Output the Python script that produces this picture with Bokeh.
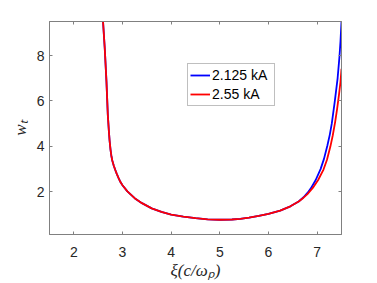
from bokeh.plotting import figure
from bokeh.models import Range1d, LinearAxis, FixedTicker, CustomJSTickFormatter, Legend, LegendItem
from bokeh.embed import file_html
from bokeh.resources import INLINE

# shared part of the curves (left branch and bottom)
xi_common = [2.60, 2.636, 2.671, 2.698, 2.72, 2.735, 2.753, 2.77, 2.79, 2.821, 2.85, 2.88,
             2.92, 2.958, 3.0, 3.1, 3.25, 3.4, 3.6, 3.8, 4.0, 4.25, 4.5, 4.75, 5.0, 5.25,
             5.42, 5.6, 5.8, 6.0, 6.24, 6.45, 6.62]
w_common = [9.5, 8.29, 6.83, 5.40, 4.68, 4.25, 3.87, 3.60, 3.38, 3.15, 2.97, 2.8,
            2.6, 2.43, 2.29, 2.02, 1.72, 1.50, 1.27, 1.12, 1.0, 0.91, 0.84, 0.79, 0.77, 0.78,
            0.81, 0.86, 0.94, 1.03, 1.17, 1.36, 1.575]

# right branch, 2.125 kA
xi_right_2125 = [6.72, 6.80, 6.87, 6.97, 7.07, 7.14, 7.21, 7.26, 7.30, 7.36, 7.42, 7.46, 7.48, 7.50]
w_right_2125 = [1.76, 1.95, 2.15, 2.52, 3.0, 3.45, 4.04, 4.52, 5.0, 5.95, 7.0, 8.0, 8.65, 9.5]
# right branch, 2.55 kA
xi_right_255 = [6.72, 6.80, 6.91, 7.02, 7.13, 7.20, 7.27, 7.32, 7.37, 7.41, 7.45, 7.48, 7.50]
w_right_255 = [1.74, 1.90, 2.17, 2.52, 2.98, 3.40, 3.98, 4.48, 5.08, 5.65, 6.30, 6.85, 7.42]

labels = ["2.125 kA", "2.55 kA"]
colors = ["#0000ff", "#ff0000"]

x_ticks = [2, 3, 4, 5, 6, 7]
y_ticks = [2, 4, 6, 8]

p = figure(width=353, height=282, output_backend="svg", toolbar_location=None,
           x_range=Range1d(1.5, 7.5), y_range=Range1d(0.12, 9.5),
           min_border_left=49, min_border_right=12, min_border_top=21, min_border_bottom=48,
           background_fill_color="white", border_fill_color="white")
p.grid.visible = False
p.outline_line_color = "#808080"

axis_col = "#808080"
txt_col = "#262626"

for ax in [p.xaxis[0], p.yaxis[0]]:
    ax.axis_line_color = axis_col
    ax.major_tick_line_color = axis_col
    ax.major_tick_in = 3
    ax.major_tick_out = 0
    ax.minor_tick_line_color = None
    ax.major_label_text_font = "Liberation Sans"
    ax.major_label_text_font_size = "14px"
    ax.major_label_text_color = txt_col
    ax.axis_label_text_font = "Liberation Serif"
    ax.axis_label_text_font_style = "italic"
    ax.axis_label_text_font_size = "17px"
    ax.axis_label_text_color = txt_col

p.xaxis.ticker = FixedTicker(ticks=x_ticks)
p.yaxis.ticker = FixedTicker(ticks=y_ticks)
p.xaxis.major_label_standoff = 12
p.xaxis.axis_label_standoff = 1
p.yaxis.major_label_standoff = 5
p.yaxis.axis_label_standoff = 4
p.xaxis.axis_label = "ξ(c/ωₚ)"
p.yaxis.axis_label = "wₜ"

empty = CustomJSTickFormatter(code="return ''")
top = LinearAxis(ticker=FixedTicker(ticks=x_ticks), formatter=empty)
right = LinearAxis(ticker=FixedTicker(ticks=y_ticks), formatter=empty)
for ax in [top, right]:
    ax.axis_line_color = axis_col
    ax.major_tick_line_color = axis_col
    ax.major_tick_in = 3
    ax.major_tick_out = 0
    ax.minor_tick_line_color = None
    ax.major_label_text_font_size = "1px"
    ax.major_label_standoff = 0
p.add_layout(top, "above")
p.add_layout(right, "right")

r1 = p.line(xi_common + xi_right_2125, w_common + w_right_2125, line_color=colors[0], line_width=1.8)
r2 = p.line(xi_common + xi_right_255, w_common + w_right_255, line_color=colors[1], line_width=1.8)

leg = Legend(items=[LegendItem(label=labels[0], renderers=[r1]),
                    LegendItem(label=labels[1], renderers=[r2])],
             location=(138, 128))
leg.label_text_font = "Liberation Sans"
leg.label_text_font_size = "14px"
leg.label_text_color = "#000000"
leg.glyph_width = 20
leg.glyph_height = 18
leg.label_height = 18
leg.label_width = 60
leg.label_standoff = 2
leg.spacing = 1
leg.padding = 2
leg.margin = 0
leg.border_line_color = axis_col
leg.border_line_width = 1
leg.background_fill_color = "white"
leg.background_fill_alpha = 1
p.add_layout(leg)

open("out.html", "w").write(file_html(p, INLINE))
